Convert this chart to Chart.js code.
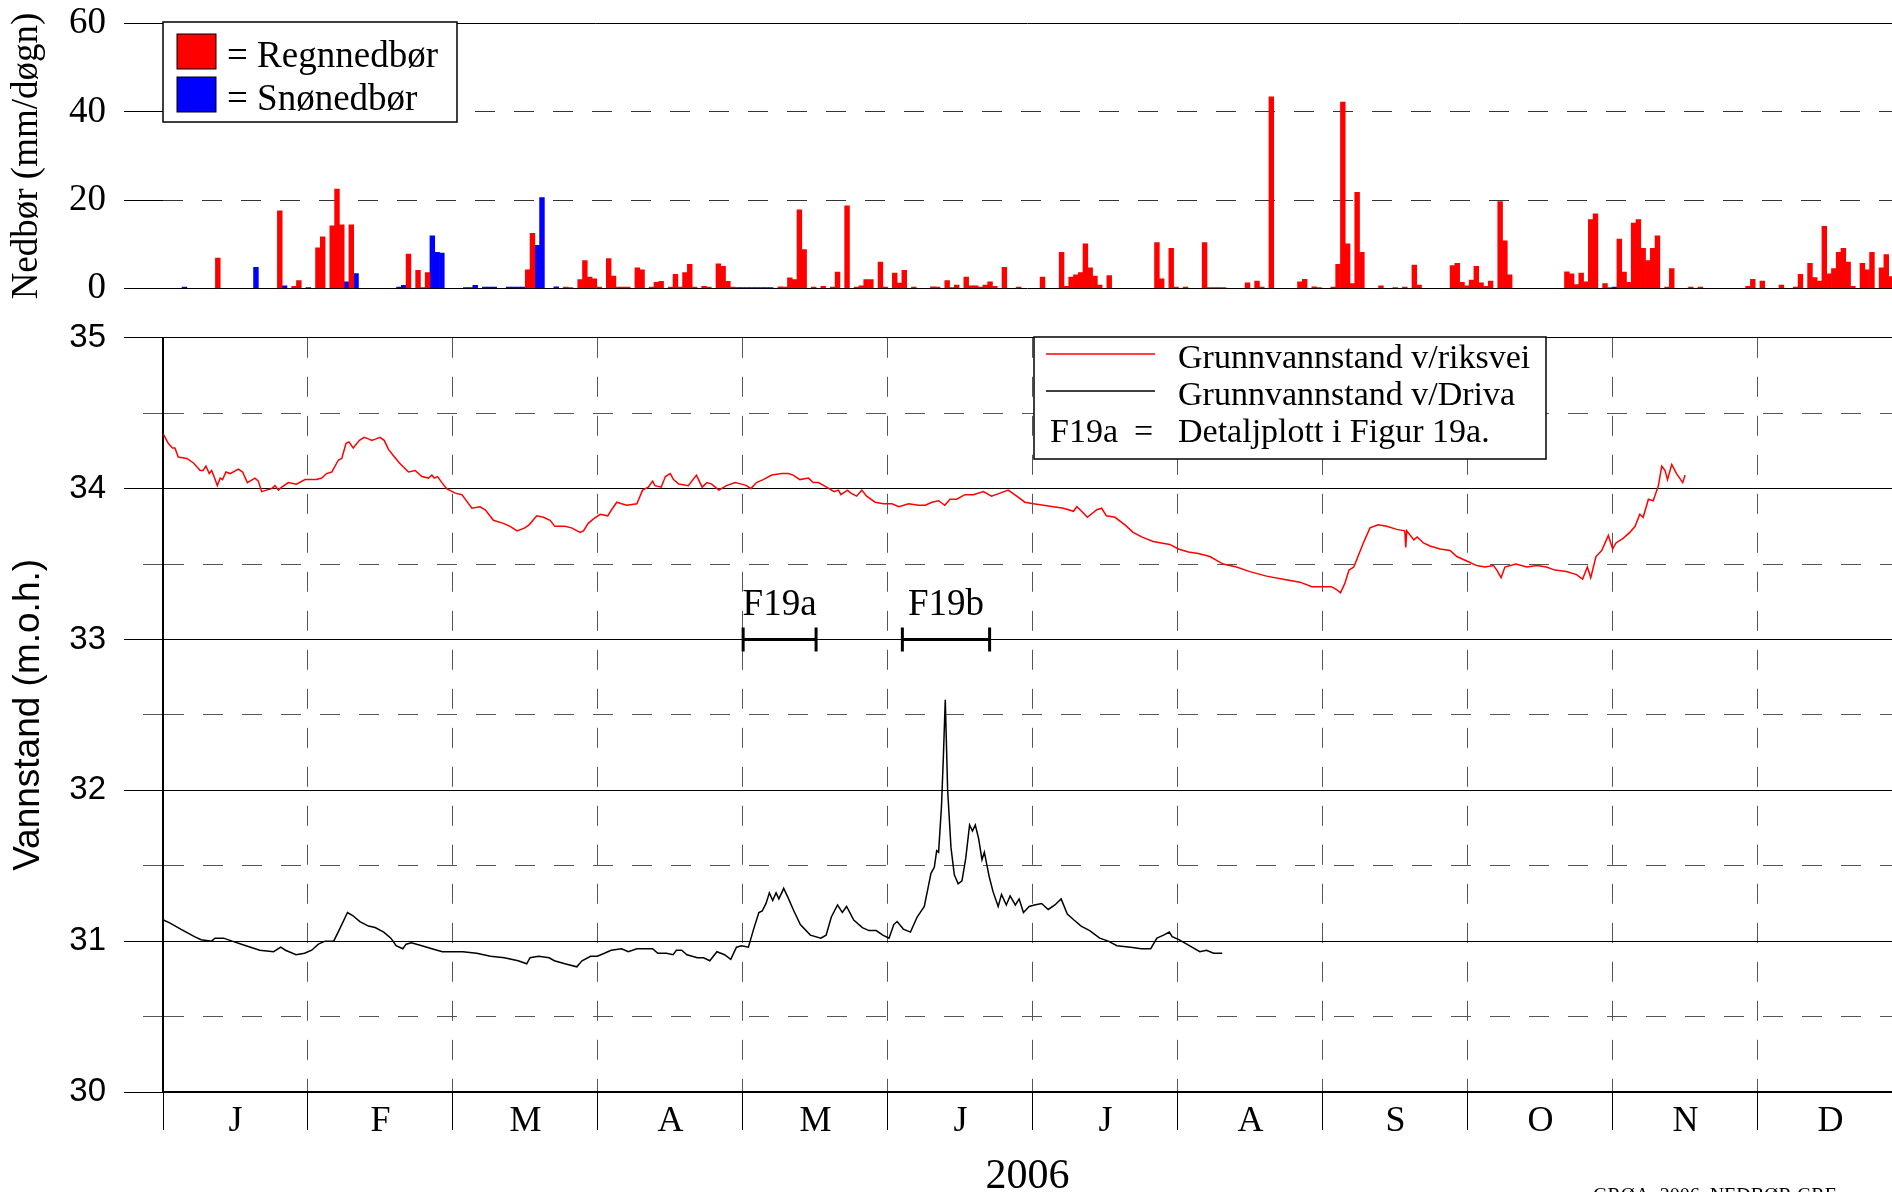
<!DOCTYPE html>
<html>
<head>
<meta charset="utf-8">
<title>Nedbør og grunnvannstand 2006</title>
<script src="https://cdn.jsdelivr.net/npm/chart.js@4.4.0/dist/chart.umd.min.js"></script>
<style>
  html, body { margin: 0; padding: 0; background: #fff; overflow: hidden; }
  #wrap { position: relative; width: 1892px; height: 1192px; }
  #rainChart { position: absolute; left: 0; top: 0; }
  #levelChart { position: absolute; left: 0; top: 300px; }
</style>
</head>
<body>
<div id="wrap">
  <canvas id="rainChart" width="1892" height="320"></canvas>
  <canvas id="levelChart" width="1892" height="900"></canvas>
</div>
<script>
// Month letters along the time axis
const monthLabels = ['J', 'F', 'M', 'A', 'M', 'J', 'J', 'A', 'S', 'O', 'N', 'D'];

// Daily rain (day of year, mm)
const rainDay = [
  12, 25, 28, 29, 33, 34, 36, 37, 38, 40,
  52, 54, 55, 56, 77, 78, 85, 86, 88, 89,
  90, 91, 92, 94, 95, 96, 97, 98, 100, 101,
  103, 104, 105, 107, 108, 109, 110, 111, 112, 114,
  115, 117, 118, 119, 120, 130, 131, 132, 133, 134,
  135, 137, 139, 141, 142, 144, 146, 147, 148, 149,
  151, 152, 154, 155, 156, 158, 162, 163, 165, 166,
  167, 169, 170, 171, 172, 173, 174, 175, 177, 180,
  185, 189, 190, 191, 192, 193, 194, 195, 196, 197,
  199, 209, 210, 212, 213, 215, 219, 220, 221, 222,
  223, 228, 230, 231, 233, 239, 240, 242, 243, 246,
  247, 248, 249, 250, 251, 252, 256, 259, 261, 263,
  264, 271, 272, 273, 274, 275, 276, 277, 278, 279,
  281, 282, 283, 295, 296, 297, 298, 299, 300, 301,
  303, 304, 306, 307, 308, 309, 310, 311, 312, 313,
  314, 316, 317, 321, 323, 333, 334, 336, 340, 343,
  344, 346, 347, 348, 349, 350, 351, 352, 353, 354,
  355, 357, 358, 359, 361, 362, 363
];
const rainMm = [
  6.9, 17.6, 0.5, 1.8, 9.2, 11.7, 14.2, 22.5, 14.4, 14.4,
  7.8, 4.1, 0.2, 3.6, 4.2, 12.5, 0.3, 0.2, 2.0, 6.3,
  2.6, 2.2, 0.3, 6.8, 2.8, 0.3, 0.3, 0.3, 4.7, 4.2,
  0.3, 1.4, 1.6, 0.3, 3.2, 0.3, 3.6, 5.5, 0.3, 0.5,
  0.3, 5.6, 5.0, 1.6, 0.3, 0.4, 0.3, 2.4, 2.0, 17.8,
  8.8, 0.3, 0.5, 0.3, 3.7, 18.7, 0.3, 0.6, 2.0, 2.0,
  6.0, 0.3, 3.5, 1.2, 4.1, 0.3, 0.4, 0.3, 1.8, 0.2,
  0.8, 2.6, 0.6, 0.6, 0.3, 0.8, 1.5, 0.5, 4.8, 0.3,
  2.6, 8.2, 0.5, 2.6, 3.1, 3.6, 10.1, 4.7, 2.8, 0.8,
  2.9, 10.4, 2.2, 9.1, 0.3, 0.3, 10.4, 0.2, 0.2, 0.2,
  0.2, 1.3, 1.7, 0.3, 43.4, 1.5, 2.1, 0.4, 0.2, 0.3,
  5.5, 42.2, 10.1, 1.1, 21.8, 8.2, 0.6, 0.2, 0.3, 5.3,
  0.8, 5.2, 5.7, 1.4, 0.6, 1.9, 5.0, 1.3, 0.5, 1.7,
  19.7, 10.8, 3.1, 3.8, 3.3, 0.9, 3.5, 1.5, 15.6, 16.9,
  1.1, 0.2, 11.2, 3.7, 1.4, 14.8, 15.6, 9.1, 6.3, 9.1,
  11.9, 0.3, 4.5, 0.3, 0.3, 0.5, 2.1, 1.7, 0.8, 0.3,
  3.2, 5.7, 2.5, 1.7, 14.1, 3.3, 4.5, 8.2, 9.1, 6.0,
  0.5, 5.7, 4.2, 8.2, 4.7, 7.7, 2.7
];

// Daily snow (day of year, mm)
const snowDay = [
  5, 20, 26, 31, 39, 41, 50, 51, 57, 58,
  59, 64, 65, 66, 68, 69, 70, 73, 74, 75,
  76, 79, 80, 83, 121, 122, 123, 124, 125, 126,
  127, 128, 305
];
const snowMm = [
  0.3, 4.8, 0.6, 0.2, 1.5, 3.4, 0.3, 0.7, 11.9, 8.2,
  8.0, 0.2, 0.2, 0.7, 0.3, 0.3, 0.3, 0.3, 0.3, 0.3,
  0.3, 9.8, 20.6, 0.4, 0.2, 0.2, 0.2, 0.2, 0.2, 0.2,
  0.2, 0.2, 0.3
];

// Groundwater level by the main road (day of year, m a.s.l.)
const riksveiDay = [
  0.1, 1.1, 2.0, 2.5, 3.2, 5.0, 6.4, 7.8, 8.4, 9.0,
  9.7, 10.2, 10.7, 11.4, 12.0, 12.5, 13.2, 14.1, 15.8, 16.7,
  17.7, 19.3, 20.0, 20.7, 21.7, 22.8, 23.5, 24.2, 24.9, 26.3,
  28.0, 29.8, 32.2, 33.3, 34.3, 35.4, 36.8, 37.5, 38.4, 39.0,
  39.9, 41.2, 42.2, 43.1, 43.8, 44.7, 45.5, 46.4, 47.3, 48.3,
  49.6, 51.5, 52.9, 54.3, 55.7, 56.4, 56.9, 57.6, 58.5, 59.5,
  61.3, 62.7, 64.8, 66.5, 67.6, 69.3, 71.4, 72.8, 74.3, 75.9,
  76.8, 78.4, 79.8, 81.2, 82.2, 84.3, 85.7, 87.5, 88.2, 89.2,
  90.3, 91.7, 93.3, 94.1, 95.2, 96.2, 97.3, 99.4, 100.6, 101.8,
  102.7, 103.2, 104.5, 105.4, 106.4, 107.1, 108.2, 110.2, 111.9, 113.1,
  114.1, 115.1, 116.6, 118.2, 120.0, 121.4, 122.4, 123.3, 124.5, 125.9,
  127.7, 129.8, 131.2, 132.2, 133.6, 135.4, 136.4, 137.5, 139.2, 140.8,
  141.7, 142.2, 143.6, 144.3, 145.5, 146.6, 147.6, 149.4, 151.1, 152.9,
  154.4, 156.4, 158.5, 159.9, 161.3, 162.7, 164.0, 165.1, 166.5, 168.2,
  170.0, 172.1, 173.8, 175.6, 177.3, 179.1, 180.8, 182.6, 184.7, 186.8,
  188.9, 191.0, 191.7, 192.7, 193.9, 195.9, 196.9, 197.9, 199.7, 201.8,
  203.5, 205.3, 207.7, 211.2, 213.0, 215.1, 217.2, 219.6, 222.4, 225.2,
  228.0, 231.5, 235.0, 238.5, 241.0, 243.0, 245.1, 246.2, 247.0, 247.9,
  248.8, 249.8, 251.8, 253.2, 254.9, 256.7, 258.8, 260.5, 260.7, 260.9,
  262.4, 263.1, 264.4, 265.8, 267.9, 270.0, 271.4, 273.5, 275.6, 277.3,
  279.1, 279.8, 280.7, 281.5, 283.8, 286.1, 288.2, 290.2, 292.0, 294.4,
  296.5, 297.8, 298.8, 299.5, 300.6, 301.8, 303.2, 304.1, 304.8, 306.3,
  307.7, 308.8, 309.8, 310.5, 311.6, 312.6, 313.7, 314.4, 315.1, 315.6,
  316.5, 317.5, 318.8, 319.3
];
const riksveiLevel = [
  34.36, 34.30, 34.27, 34.27, 34.21, 34.20, 34.17, 34.12, 34.12, 34.15,
  34.10, 34.12, 34.08, 34.02, 34.07, 34.06, 34.11, 34.10, 34.13, 34.11,
  34.04, 34.07, 34.05, 33.98, 33.99, 34.00, 34.02, 33.99, 34.01, 34.04,
  34.03, 34.06, 34.06, 34.07, 34.10, 34.11, 34.19, 34.20, 34.30, 34.31,
  34.27, 34.32, 34.34, 34.33, 34.32, 34.33, 34.34, 34.32, 34.26, 34.22,
  34.17, 34.11, 34.12, 34.08, 34.07, 34.09, 34.07, 34.08, 34.04, 34.00,
  33.97, 33.96, 33.87, 33.88, 33.86, 33.79, 33.77, 33.75, 33.72, 33.74,
  33.76, 33.82, 33.81, 33.79, 33.75, 33.75, 33.74, 33.71, 33.72, 33.77,
  33.80, 33.83, 33.82, 33.86, 33.91, 33.90, 33.89, 33.90, 33.99, 34.01,
  34.05, 34.02, 34.01, 34.08, 34.10, 34.06, 34.03, 34.02, 34.09, 34.01,
  34.04, 34.03, 33.99, 34.02, 34.04, 34.03, 34.02, 34.00, 34.04, 34.06,
  34.09, 34.10, 34.10, 34.09, 34.06, 34.07, 34.04, 34.04, 34.01, 33.98,
  33.99, 33.96, 33.99, 33.97, 33.95, 33.99, 33.95, 33.91, 33.90, 33.90,
  33.88, 33.90, 33.89, 33.89, 33.91, 33.92, 33.89, 33.93, 33.93, 33.96,
  33.96, 33.98, 33.95, 33.97, 33.99, 33.95, 33.91, 33.90, 33.89, 33.88,
  33.87, 33.85, 33.88, 33.85, 33.81, 33.86, 33.87, 33.82, 33.81, 33.76,
  33.71, 33.68, 33.65, 33.63, 33.60, 33.58, 33.57, 33.55, 33.50, 33.48,
  33.45, 33.42, 33.40, 33.38, 33.35, 33.35, 33.35, 33.33, 33.31, 33.37,
  33.46, 33.48, 33.64, 33.74, 33.76, 33.75, 33.73, 33.72, 33.61, 33.72,
  33.66, 33.68, 33.64, 33.62, 33.60, 33.59, 33.55, 33.52, 33.49, 33.48,
  33.49, 33.46, 33.41, 33.48, 33.50, 33.48, 33.49, 33.48, 33.46, 33.45,
  33.43, 33.40, 33.48, 33.41, 33.55, 33.59, 33.69, 33.60, 33.64, 33.67,
  33.71, 33.75, 33.83, 33.81, 33.93, 33.92, 34.02, 34.15, 34.12, 34.06,
  34.16, 34.10, 34.04, 34.09
];

// Groundwater level by the river Driva (day of year, m a.s.l.)
const drivaDay = [
  0.1, 1.5, 3.7, 6.6, 8.0, 10.2, 10.9, 12.7, 14.5, 17.4,
  20.3, 23.2, 24.7, 25.7, 27.9, 29.7, 31.2, 32.6, 34.0, 35.8,
  36.9, 38.7, 39.8, 41.3, 43.1, 44.5, 46.3, 47.8, 48.9, 50.3,
  51.0, 52.1, 54.3, 56.4, 58.6, 60.8, 62.9, 65.8, 68.7, 71.6,
  74.5, 76.3, 77.0, 78.8, 81.0, 82.1, 84.3, 86.8, 87.9, 89.7,
  91.1, 92.6, 94.0, 96.2, 97.6, 99.4, 101.2, 102.7, 103.8, 105.6,
  107.0, 107.7, 108.8, 109.9, 112.1, 113.4, 114.7, 116.2, 117.8, 119.1,
  120.3, 121.4, 122.8, 123.9, 125.0, 125.7, 126.5, 127.2, 127.9, 128.6,
  129.2, 130.2, 131.1, 132.2, 133.7, 135.8, 138.0, 139.1, 140.2, 141.5,
  142.5, 143.4, 144.9, 146.7, 148.1, 149.6, 151.0, 152.3, 153.3, 154.0,
  155.3, 156.8, 158.2, 159.7, 160.4, 161.1, 161.8, 162.3, 162.7, 163.3,
  163.7, 164.1, 164.6, 165.3, 166.0, 166.8, 167.6, 168.4, 169.2, 169.8,
  170.4, 171.1, 171.8, 172.3, 173.3, 174.1, 175.2, 175.9, 176.9, 177.7,
  178.8, 179.6, 180.5, 181.7, 182.8, 184.3, 185.7, 187.1, 188.4, 189.7,
  191.1, 192.6, 194.4, 196.5, 198.3, 200.1, 203.0, 205.2, 207.2, 208.5,
  209.9, 211.1, 211.7, 213.1, 215.3, 217.5, 218.9, 220.4, 222.2
];
const drivaLevel = [
  31.14, 31.12, 31.08, 31.03, 31.01, 31.00, 31.02, 31.02, 31.00, 30.97,
  30.94, 30.93, 30.96, 30.94, 30.91, 30.92, 30.94, 30.98, 31.00, 31.00,
  31.07, 31.19, 31.17, 31.13, 31.10, 31.09, 31.06, 31.02, 30.97, 30.95,
  30.98, 30.99, 30.97, 30.95, 30.93, 30.93, 30.93, 30.92, 30.90, 30.89,
  30.87, 30.85, 30.89, 30.90, 30.89, 30.87, 30.85, 30.83, 30.87, 30.90,
  30.90, 30.92, 30.94, 30.95, 30.93, 30.95, 30.95, 30.95, 30.92, 30.92,
  30.91, 30.94, 30.94, 30.91, 30.89, 30.89, 30.87, 30.93, 30.91, 30.88,
  30.96, 30.97, 30.96, 31.08, 31.19, 31.20, 31.25, 31.32, 31.27, 31.32,
  31.28, 31.35, 31.29, 31.21, 31.11, 31.04, 31.02, 31.04, 31.16, 31.24,
  31.19, 31.23, 31.14, 31.09, 31.07, 31.07, 31.04, 31.02, 31.11, 31.13,
  31.08, 31.06, 31.16, 31.23, 31.34, 31.45, 31.49, 31.60, 31.59, 31.89,
  32.22, 32.60, 32.00, 31.62, 31.44, 31.38, 31.40, 31.55, 31.77, 31.73,
  31.77, 31.68, 31.54, 31.59, 31.43, 31.33, 31.23, 31.31, 31.24, 31.30,
  31.24, 31.28, 31.19, 31.23, 31.24, 31.25, 31.21, 31.24, 31.28, 31.18,
  31.14, 31.10, 31.07, 31.02, 31.00, 30.97, 30.96, 30.95, 30.95, 31.02,
  31.04, 31.06, 31.03, 31.01, 30.97, 30.93, 30.94, 30.92, 30.92
];

// Periods shown in detail plots
const detailNames = ['F19a', 'F19b'];
const detailStart = [121.7, 155.1];
const detailEnd = [137.0, 173.4];
const detailLevel = 33;

const SERIF = "'Liberation Serif', 'Times New Roman', serif";
const SANS = "'Liberation Sans', Arial, sans-serif";
Chart.defaults.color = '#000';
Chart.defaults.font.family = SERIF;

const monthLen = 365 / 12;
const xMax = 362.7;   // right edge of the plot sits just before 31 Dec

function monthTicks(scale) {
  const ticks = [];
  for (let k = 0; k < 12; k++) {
    ticks.push({ value: k * monthLen });
    ticks.push({ value: (k + 0.5) * monthLen });
  }
  scale.ticks = ticks.filter(t => t.value <= scale.max);
}
function isBoundary(v) {
  const m = v / monthLen;
  return Math.abs(m - Math.round(m)) < 1e-6;
}
const boundaryTick = c => !!c.tick && isBoundary(c.tick.value);

const CLEAR = 'rgba(0,0,0,0)';

// ---------- precipitation panel ----------
const rainLegend = {
  id: 'rainLegend',
  afterDraw(chart) {
    const ctx = chart.ctx;
    ctx.save();
    ctx.fillStyle = '#fff';
    ctx.fillRect(163, 22, 294, 100);
    ctx.strokeStyle = '#000';
    ctx.lineWidth = 1.5;
    ctx.strokeRect(163, 22, 294, 100);
    ctx.font = '37px ' + SERIF;
    ctx.textBaseline = 'alphabetic';
    chart.data.datasets.forEach((ds, i) => {
      const y = 34 + i * 43;
      ctx.fillStyle = ds.backgroundColor;
      ctx.fillRect(177, y, 39, 35);
      ctx.lineWidth = 1;
      ctx.strokeRect(177, y, 39, 35);
      ctx.fillStyle = '#000';
      ctx.fillText('= ' + ds.label, 227, y + 33);
    });
    ctx.restore();
  }
};

// tick marks are 57px long; the dash pattern keeps the 18px next to the labels blank
const majorRain = c => !!c.tick && c.tick.value % 20 === 0;

new Chart(document.getElementById('rainChart'), {
  type: 'bar',
  data: {
    datasets: [
      {
        label: 'Regnnedbør',
        data: rainDay.map((d, i) => ({ x: d - 0.5, y: rainMm[i] })),
        backgroundColor: '#ff0000'
      },
      {
        label: 'Snønedbør',
        data: snowDay.map((d, i) => ({ x: d - 0.5, y: snowMm[i] })),
        backgroundColor: '#0000ff'
      }
    ]
  },
  options: {
    responsive: false,
    animation: false,
    devicePixelRatio: 1,
    layout: { autoPadding: false, padding: { top: 23.5, bottom: 31.5, left: 0, right: 0 } },
    datasets: {
      bar: { grouped: false, barPercentage: 1, categoryPercentage: 1, borderWidth: 0 }
    },
    plugins: { legend: { display: false }, tooltip: { enabled: false } },
    scales: {
      x: {
        type: 'linear', min: 0, max: xMax, display: false, offset: false,
        grid: { offset: false },
        afterBuildTicks: monthTicks
      },
      y: {
        min: 0, max: 60,
        afterFit: s => { s.width = 163; },
        ticks: {
          stepSize: 10, padding: 0,
          font: { family: SERIF, size: 37 },
          callback: v => (v % 20 === 0 ? v : '')
        },
        grid: {
          color: c => {
            if (!c.tick) return CLEAR;
            const v = c.tick.value;
            if (v === 0 || v === 60) return '#000';
            if (v === 20 || v === 40) return '#333';
            return CLEAR;
          },
          lineWidth: 1,
          tickLength: 57,
          tickColor: '#000',
          tickBorderDash: c => (majorRain(c) ? [39, 18] : [19, 38]),
          tickBorderDashOffset: c => (majorRain(c) ? 39 : 19)
        },
        border: {
          display: false,
          dash: c => (c.tick && (c.tick.value === 20 || c.tick.value === 40) ? [20, 19] : [])
        },
        title: {
          display: true, text: 'Nedbør (mm/døgn)',
          font: { family: SERIF, size: 37 },
          padding: { top: 5, bottom: 0 }
        }
      }
    }
  },
  plugins: [rainLegend]
});

// ---------- groundwater panel ----------
const levelLegend = {
  id: 'levelLegend',
  afterDraw(chart) {
    const ctx = chart.ctx;
    ctx.save();
    ctx.fillStyle = '#fff';
    ctx.fillRect(1034, 37, 512, 122);
    ctx.strokeStyle = '#000';
    ctx.lineWidth = 1.5;
    ctx.strokeRect(1034, 37, 512, 122);
    ctx.font = '34px ' + SERIF;
    ctx.textBaseline = 'alphabetic';
    ctx.fillStyle = '#000';
    chart.data.datasets.filter(ds => !ds.detail).forEach((ds, i) => {
      const y = 54 + i * 37;
      ctx.strokeStyle = ds.borderColor;
      ctx.lineWidth = 1.5;
      ctx.beginPath();
      ctx.moveTo(1046, y);
      ctx.lineTo(1155, y);
      ctx.stroke();
      ctx.fillText(ds.label, 1178, y + 14);
    });
    ctx.fillText(detailNames[0], 1050, 142);
    ctx.fillText('=', 1134, 142);
    ctx.fillText('Detaljplott i Figur 19a.', 1178, 142);

    ctx.font = '20px ' + SERIF;
    ctx.textBaseline = 'top';
    ctx.fillText('GRØA_2006_NEDBØR.GRF', 1593, 887);
    ctx.restore();
  }
};

const detailLabels = {
  id: 'detailLabels',
  afterDatasetsDraw(chart) {
    const { ctx, scales: { x, y } } = chart;
    ctx.save();
    ctx.font = '37px ' + SERIF;
    ctx.fillStyle = '#000';
    ctx.textAlign = 'center';
    ctx.textBaseline = 'alphabetic';
    chart.data.datasets.forEach(ds => {
      if (!ds.detail) return;
      const [a, b] = ds.data;
      ctx.fillText(ds.label, x.getPixelForValue((a.x + b.x) / 2), y.getPixelForValue(a.y) - 24);
    });
    ctx.restore();
  }
};

const halfStep = c => !!c.tick && !Number.isInteger(c.tick.value);

const levelSets = [
  {
    label: 'Grunnvannstand v/riksvei',
    data: riksveiDay.map((d, i) => ({ x: d, y: riksveiLevel[i] })),
    borderColor: '#ff0000', borderWidth: 1.5, pointRadius: 0
  },
  {
    label: 'Grunnvannstand v/Driva',
    data: drivaDay.map((d, i) => ({ x: d, y: drivaLevel[i] })),
    borderColor: '#000', borderWidth: 1.5, pointRadius: 0
  }
];
detailNames.forEach((name, i) => {
  levelSets.push({
    label: name,
    detail: true,
    data: [{ x: detailStart[i], y: detailLevel }, { x: detailEnd[i], y: detailLevel }],
    borderColor: '#000', borderWidth: 3,
    pointStyle: 'line', pointRadius: 12, pointRotation: 90,
    pointBorderWidth: 3, pointBorderColor: '#000'
  });
});

new Chart(document.getElementById('levelChart'), {
  type: 'line',
  data: { datasets: levelSets },
  options: {
    responsive: false,
    animation: false,
    devicePixelRatio: 1,
    layout: { autoPadding: false, padding: { top: 36.6, bottom: 0, left: 0, right: 0 } },
    elements: { line: { tension: 0, fill: false } },
    plugins: { legend: { display: false }, tooltip: { enabled: false } },
    scales: {
      x: {
        type: 'linear', min: 0, max: xMax,
        afterBuildTicks: monthTicks,
        afterFit: s => { s.height = 108; },
        ticks: {
          autoSkip: false, maxRotation: 0, minRotation: 0, padding: -30,
          font: { family: SERIF, size: 36 },
          callback: v => (isBoundary(v) ? '' : monthLabels[Math.floor(v / monthLen)])
        },
        grid: {
          color: c => (boundaryTick(c) && c.tick.value > 0 ? '#555' : CLEAR),
          lineWidth: 1,
          tickLength: 38,
          tickColor: c => (boundaryTick(c) ? '#000' : CLEAR),
          tickWidth: 1
        },
        border: {
          display: true, color: '#000', width: 2,
          dash: c => (boundaryTick(c) ? [20, 19] : [])
        },
        title: {
          display: true, text: '2006',
          font: { family: SERIF, size: 42 },
          padding: { top: 0, bottom: -2 }
        }
      },
      y: {
        min: 30, max: 35,
        afterFit: s => { s.width = 163; },
        ticks: {
          stepSize: 0.5, padding: 18,
          font: { family: SANS, size: 33 },
          callback: v => (Number.isInteger(v) ? v : '')
        },
        grid: {
          color: c => (halfStep(c) ? '#555' : '#000'),
          lineWidth: 1,
          tickLength: 39,
          tickColor: c => (halfStep(c) ? '#555' : '#000'),
          tickBorderDash: c => (halfStep(c) ? [20, 19] : []),
          tickBorderDashOffset: c => (halfStep(c) ? 20 : 0)
        },
        border: {
          display: true, color: '#000', width: 2,
          dash: c => (halfStep(c) ? [20, 19] : [])
        },
        title: {
          display: true, text: 'Vannstand (m.o.h.)',
          font: { family: SANS, size: 37 },
          padding: { top: 7, bottom: 0 }
        }
      }
    }
  },
  plugins: [detailLabels, levelLegend]
});
</script>
</body>
</html>
